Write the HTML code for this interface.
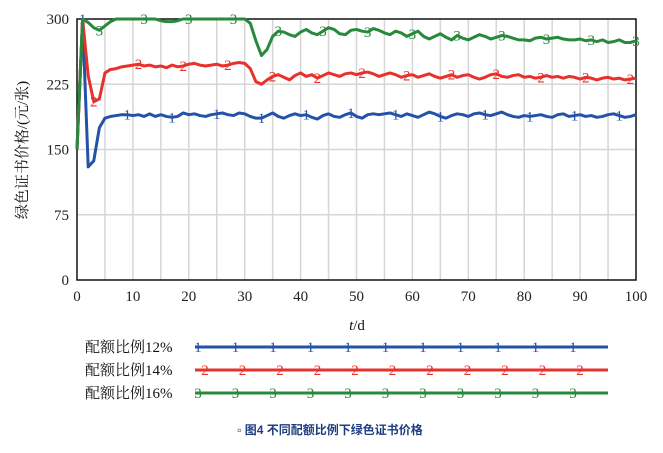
<!DOCTYPE html>
<html><head><meta charset="utf-8"><style>
body{margin:0;background:#fff;width:663px;height:448px;overflow:hidden;font-family:"Liberation Serif","Noto Serif CJK SC",serif}
</style></head><body>
<svg id="c" width="663" height="448" xmlns="http://www.w3.org/2000/svg"></svg>
<script>
const tValues=[...Array(101).keys()];
const blue=[150,300,130,137,175,186,188,189,190,190,189,190,188,191,188,190,188,187,188,192,190,191,189,188,190,191,192,190,189,192,191,188,186,186,189,192,188,186,189,191,189,190,187,185,189,191,188,187,190,192,188,186,190,191,190,191,192,190,188,191,189,187,190,193,191,188,186,189,191,190,188,191,192,190,189,191,193,190,188,187,189,188,189,190,188,187,190,191,188,189,190,188,189,187,188,190,191,189,187,188,190];
const red=[150,300,235,205,208,238,242,243,245,246,247,248,246,247,245,246,244,247,245,246,248,249,247,246,247,248,246,247,249,250,249,243,228,225,230,234,236,233,230,235,238,234,236,232,235,238,236,234,237,238,236,238,239,237,234,236,238,236,233,235,236,233,235,237,234,232,234,236,233,235,236,233,231,233,236,237,234,233,235,236,233,234,232,233,235,233,234,232,234,233,231,233,232,230,232,233,231,232,230,231,232];
const green=[150,300,296,290,287,292,297,300,300,300,300,300,300,300,300,298,297,297,298,300,300,300,300,300,300,300,300,300,300,300,300,295,275,258,265,280,286,285,282,280,285,288,284,282,286,290,288,283,282,287,288,286,285,289,287,284,282,286,284,280,283,286,280,277,280,283,279,276,281,278,276,279,282,280,277,279,281,280,278,276,276,275,278,279,277,278,279,277,276,276,277,275,276,274,276,273,274,276,273,273,275];
const yTicks=[0,75,150,225,300];
const xTicks=[0,10,20,30,40,50,60,70,80,90,100];
const seriesNames=["配额比例12%","配额比例14%","配额比例16%"];
const NS="http://www.w3.org/2000/svg",svg=document.getElementById('c');
const L=77,R=636,T=19,B=280;
const xs=t=>L+(R-L)*t/100, ys=v=>B-(B-T)*v/300;
function mk(tag,a,p){const e=document.createElementNS(NS,tag);for(const k in a)e.setAttribute(k,a[k]);(p||svg).appendChild(e);return e;}
for(let t=5;t<100;t+=5){const g=mk('line',{x1:xs(t),x2:xs(t),y1:T,y2:B,stroke:'#d6d6d6','stroke-width':1.5});

}
yTicks.forEach(v=>{if(v>0&&v<300){const g=mk('line',{x1:L,x2:R,y1:ys(v),y2:ys(v),stroke:'#d6d6d6','stroke-width':1.5});

}
const tx=mk('text',{x:L-8,y:ys(v)+5,'text-anchor':'end','font-size':15,fill:'#222'});tx.textContent=v;

});
xTicks.forEach(t=>{const tx=mk('text',{x:xs(t),y:B+21,'text-anchor':'middle','font-size':15,fill:'#222'});tx.textContent=t;

});
const fr=mk('rect',{x:L,y:T,width:R-L,height:B-T,fill:'none',stroke:'#111','stroke-width':1.5});


const colors=['#2452a8','#e8312b','#27893b'];
const data=[blue,red,green];
const offs=[1,3,4];
data.forEach((d,i)=>{
const p=mk('polyline',{points:d.map((v,j)=>xs(tValues[j])+','+ys(v)).join(' '),fill:'none',stroke:colors[i],'stroke-width':3,'stroke-linejoin':'round'});


for(let t=offs[i];t<=100;t+=8){const m=mk('text',{x:xs(t),y:ys(d[t])+5,'text-anchor':'middle','font-size':15,fill:colors[i]});m.textContent=i+1;

}
const ly=347+i*23;
const lt=mk('text',{x:85,y:ly+5,'font-size':15,fill:'#111'});lt.textContent=seriesNames[i];


const ll=mk('line',{x1:195,x2:608,y1:ly,y2:ly,stroke:colors[i],'stroke-width':3});


for(let k=0;k<11;k++){const m=mk('text',{x:198+k*37.5+(i==1?7:0),y:ly+5,'text-anchor':'middle','font-size':15,fill:colors[i]});m.textContent=i+1;

}
});
const yt=mk('text',{x:0,y:0,transform:'translate(27,150) rotate(-90)','text-anchor':'middle','font-size':15,fill:'#111'});yt.textContent='绿色证书价格/(元/张)';


const xt=mk('text',{x:357,y:330,'text-anchor':'middle','font-size':15,fill:'#111'});xt.innerHTML='<tspan font-style="italic">t</tspan>/d';


const cap=mk('text',{x:330,y:434,'text-anchor':'middle','font-size':12,'font-weight':'bold',fill:'#1f3f80','font-family':'"Liberation Sans","Noto Sans CJK SC",sans-serif'});cap.textContent='▫ 图4 不同配额比例下绿色证书价格';


</script>
</body></html>
